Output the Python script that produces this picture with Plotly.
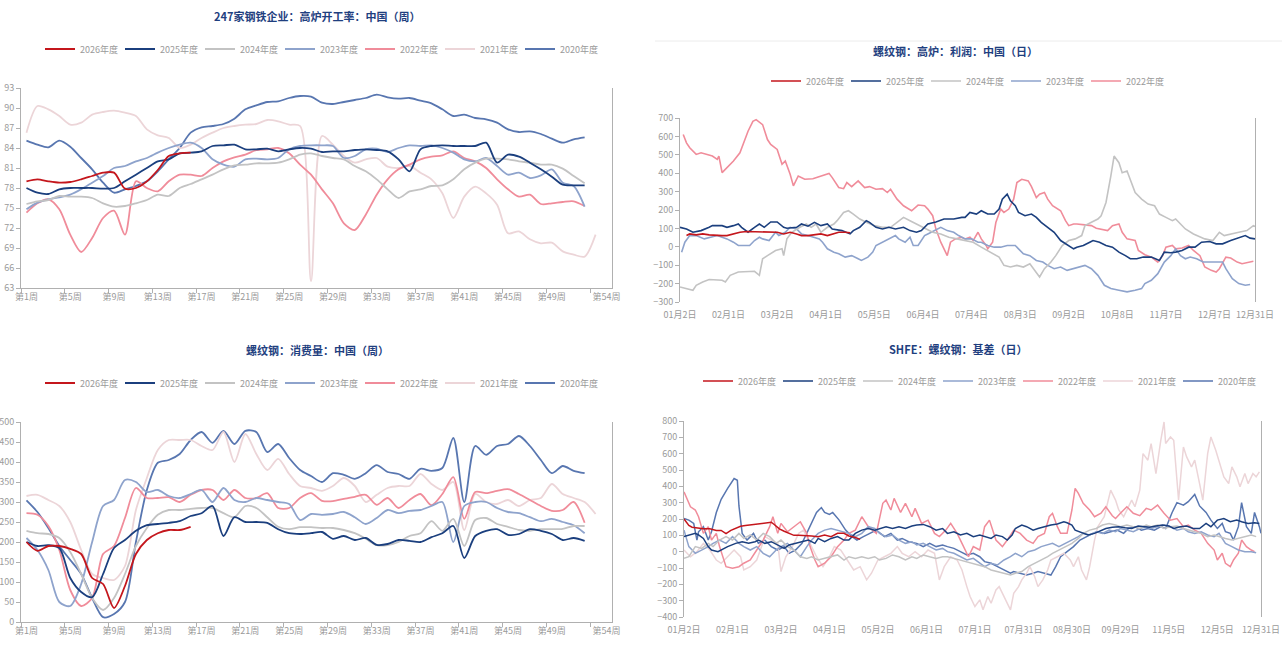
import plotly.graph_objects as go

W, H = 1282, 646

YEARS = ["2026年度", "2025年度", "2024年度", "2023年度", "2022年度", "2021年度", "2020年度"]
COLORS = ["#c4161c", "#1b3f7e", "#c3c3c3", "#8ea3cc", "#f08c9a", "#ecd5d8", "#5876b0"]

# ---------- Panel 1: 247家钢铁企业 高炉开工率 (weekly, %) ----------
BF_2026 = [79.0, 79.3, 79.0, 78.8, 78.9, 79.3, 79.8, 80.3, 80.3, 77.9, 78.0, 79.0, 80.7, 82.8, 83.2, 83.3]
BF_2025 = [78.0, 77.3, 77.1, 77.8, 78.0, 78.0, 78.0, 77.9, 78.0, 79.0, 80.0, 81.0, 82.0, 82.3, 83.2, 83.3, 83.5, 84.3,
           84.4, 84.5, 83.8, 83.8, 83.9, 83.5, 83.8, 84.0, 83.9, 83.4, 83.5, 83.5, 83.7, 83.8, 83.7, 83.5, 82.3, 80.5,
           83.8, 84.3, 84.4, 84.3, 84.3, 84.3, 84.8, 81.8, 83.0, 82.7, 81.8, 80.8, 79.7, 78.5, 78.4, 78.4]
BF_2024 = [75.6, 76.0, 76.2, 76.8, 76.7, 76.7, 76.5, 75.7, 75.2, 75.3, 75.7, 76.2, 77.0, 76.8, 78.0, 78.6, 79.3, 80.0,
           80.8, 81.4, 81.5, 81.7, 81.7, 81.8, 82.3, 83.0, 83.2, 82.8, 82.5, 82.3, 81.3, 80.5, 79.3, 77.8, 76.5, 77.5,
           77.8, 78.3, 78.4, 79.3, 80.8, 81.8, 82.4, 82.4, 82.3, 82.0, 81.8, 81.5, 81.5, 80.9, 79.8, 78.7]
BF_2023 = [74.8, 75.8, 76.3, 76.6, 77.0, 77.8, 78.8, 79.8, 81.0, 81.3, 82.0, 82.5, 83.3, 84.0, 84.5, 84.8, 84.0, 82.3,
           81.5, 81.2, 82.3, 82.4, 82.3, 82.5, 83.8, 84.3, 84.4, 84.4, 84.3, 82.5, 82.8, 83.8, 83.9, 83.4, 84.0, 84.4,
           84.3, 84.4, 84.0, 83.3, 82.3, 82.0, 82.5, 81.3, 80.0, 80.3, 79.5, 79.9, 80.8, 78.8, 78.3, 75.2]
BF_2022 = [74.3, 75.7, 76.3, 74.8, 71.0, 68.4, 70.5, 73.5, 74.6, 71.0, 79.0, 78.0, 77.5, 79.0, 80.0, 80.0, 79.8, 81.0,
           82.0, 82.6, 83.0, 83.7, 83.8, 84.0, 83.2, 81.5, 80.0, 77.8, 75.7, 72.7, 71.7, 74.0, 77.0, 79.3, 80.8, 81.5,
           82.3, 82.7, 82.9, 83.5, 82.5, 82.0, 81.0, 79.3, 77.8, 76.7, 77.0, 75.6, 75.7, 75.9, 76.0, 75.3]
BF_2021 = [86.3, 90.3, 89.8, 88.8, 87.5, 87.8, 89.0, 89.4, 89.6, 89.3, 88.8, 86.8, 85.9, 85.5, 84.0, 84.5, 85.5, 86.3,
           87.0, 87.3, 87.5, 87.6, 88.2, 88.0, 87.5, 87.3, 64.0, 85.8, 84.5, 82.8, 81.8, 82.3, 82.5, 81.2, 81.0, 81.3,
           80.3, 79.3, 77.2, 73.5, 76.7, 78.2, 77.2, 75.5, 71.2, 71.5, 70.3, 69.7, 69.8, 68.5, 68.0, 67.7, 71.0]
BF_2020 = [85.1, 84.5, 84.1, 85.1, 84.2, 82.5, 80.8, 78.8, 77.3, 77.8, 78.3, 79.0, 80.5, 82.3, 84.0, 86.3, 87.1, 87.3,
           87.6, 88.4, 89.8, 90.4, 90.9, 91.0, 91.5, 91.8, 91.7, 90.8, 90.6, 90.9, 91.2, 91.5, 92.0, 91.6, 91.4, 91.5,
           91.1, 90.7, 89.8, 88.8, 89.0, 88.5, 88.3, 87.8, 86.8, 86.4, 86.5, 86.1, 85.4, 84.8, 85.3, 85.6]

# ---------- Panel 3: 螺纹钢 消费量 (weekly, 万吨) ----------
CONS_2026 = [200, 178, 190, 190, 183, 170, 110, 95, 35, 90, 170, 205, 222, 230, 230, 238]
CONS_2025 = [200, 190, 192, 185, 110, 75, 62, 120, 185, 205, 228, 242, 245, 248, 252, 265, 272, 290, 215, 262, 250,
             250, 248, 232, 222, 220, 222, 225, 208, 215, 205, 210, 193, 195, 205, 203, 200, 212, 222, 240, 160, 215,
             228, 232, 218, 220, 232, 228, 220, 205, 210, 203]
CONS_2024 = [228, 222, 220, 210, 175, 120, 60, 30, 60, 120, 190, 235, 268, 280, 280, 283, 285, 285, 272, 262, 290,
             285, 262, 238, 232, 237, 237, 235, 235, 230, 222, 208, 192, 192, 200, 215, 222, 252, 228, 258, 190, 255,
             260, 245, 238, 230, 228, 232, 232, 233, 240, 240]
CONS_2023 = [210, 180, 130, 50, 40, 95, 200, 290, 305, 355, 350, 325, 330, 315, 310, 320, 330, 300, 335, 305, 300,
             310, 305, 300, 295, 255, 270, 268, 270, 275, 262, 245, 260, 280, 272, 278, 280, 290, 300, 200, 290, 300,
             300, 285, 275, 272, 262, 252, 258, 250, 242, 222]
CONS_2022 = [272, 268, 240, 180, 80, 40, 60, 170, 190, 260, 335, 310, 310, 312, 300, 318, 330, 330, 305, 330, 310,
             310, 322, 285, 285, 310, 322, 303, 302, 308, 313, 318, 293, 310, 285, 305, 320, 292, 320, 362, 258, 325,
             322, 328, 332, 320, 305, 290, 278, 280, 300, 248]
CONS_2021 = [315, 318, 305, 290, 250, 180, 120, 110, 105, 140, 280, 360, 430, 455, 455, 455, 440, 430, 475, 400, 470,
             420, 380, 408, 370, 340, 335, 328, 340, 360, 340, 300, 318, 335, 340, 340, 370, 345, 330, 350, 230, 320,
             300, 295, 305, 290, 305, 310, 345, 320, 310, 300, 270]
CONS_2020 = [304, 275, 235, 190, 155, 120, 60, 12, 20, 50, 200, 330, 398, 405, 420, 455, 475, 448, 478, 445, 478,
             475, 425, 445, 410, 380, 365, 350, 372, 368, 358, 372, 392, 375, 370, 358, 383, 378, 385, 460, 300, 440,
             418, 440, 445, 465, 440, 405, 372, 390, 378, 372]

WEEK_TICKS = [1, 5, 9, 13, 17, 21, 25, 29, 33, 37, 41, 45, 49, 54]
WEEK_LABELS = ["第1周", "第5周", "第9周", "第13周", "第17周", "第21周", "第25周", "第29周", "第33周", "第37周",
               "第41周", "第45周", "第49周", "第54周"]

# ---------- Panel 2: 螺纹钢 高炉 利润 (daily; x = trading-day slot, y = 元/吨) ----------
PROFIT_2026 = [(4, 61), (6, 70), (10, 65), (14, 70), (18, 65), (22, 61), (26, 61), (29, 61), (33, 70), (37, 79),
               (41, 83), (45, 83), (49, 83), (52, 83), (56, 79), (60, 79), (64, 70), (68, 79), (72, 70), (75, 61),
               (79, 61), (83, 65), (87, 70), (91, 61), (94, 70), (98, 79), (102, 79), (105, 76)]
PROFIT_2025 = [(0, 106), (4, 97), (8, 79), (13, 88), (18, 106), (20, 115), (26, 115), (29, 106), (33, 115), (36, 124),
               (38, 106), (42, 79), (46, 106), (49, 124), (52, 106), (56, 135), (60, 135), (64, 106), (66, 101),
               (72, 106), (75, 124), (79, 112), (83, 133), (87, 115), (91, 124), (94, 97), (100, 88), (105, 70),
               (107, 88), (111, 106), (115, 142), (117, 133), (121, 106), (125, 97), (129, 106), (133, 97), (138, 106),
               (142, 88), (146, 79), (149, 88), (153, 124), (158, 135), (163, 151), (169, 151), (174, 160), (176, 160),
               (179, 187), (183, 178), (186, 196), (190, 178), (194, 178), (197, 205), (199, 259), (202, 286),
               (204, 250), (207, 223), (209, 187), (213, 169), (217, 178), (220, 160), (223, 133), (227, 106),
               (231, 79), (235, 34), (240, 7), (243, -11), (245, -2), (249, 7), (253, 25), (255, 34), (259, 25),
               (263, 7), (267, -2), (271, -29), (275, -48), (278, -65), (282, -65), (286, -56), (291, -56), (296, -74),
               (299, -29), (303, -32), (306, -29), (310, -20), (314, -2), (318, -2), (322, 25), (327, 29), (331, 16),
               (335, 16), (340, 34), (345, 47), (349, 61), (352, 47), (355, 43)]
PROFIT_2024 = [(0, -218), (4, -227), (8, -236), (10, -209), (14, -191), (18, -178), (22, -182), (26, -182), (28, -191),
               (31, -155), (36, -137), (41, -133), (46, -133), (49, -155), (51, -65), (54, -48), (56, -38), (59, -20),
               (63, -11), (64, -48), (66, 43), (69, 79), (74, 106), (78, 124), (81, 106), (84, 124), (87, 79),
               (91, 106), (95, 124), (97, 142), (101, 187), (104, 196), (107, 178), (111, 151), (115, 133), (120, 115),
               (125, 106), (130, 106), (134, 133), (138, 160), (142, 142), (146, 124), (151, 106), (156, 79), (161, 70),
               (166, 52), (171, 43), (176, 34), (181, 25), (186, -2), (192, -29), (197, -56), (200, -101), (204, -110),
               (208, -101), (212, -110), (216, -92), (220, -137), (222, -164), (225, -119), (229, -83), (232, -48),
               (236, 7), (240, 34), (244, 43), (248, 61), (250, 115), (254, 133), (258, 151), (260, 169), (263, 241),
               (266, 385), (268, 493), (271, 457), (273, 403), (276, 412), (278, 367), (281, 295), (285, 259),
               (289, 232), (293, 223), (296, 178), (300, 160), (304, 142), (306, 151), (312, 97), (317, 70), (321, 52),
               (324, 43), (329, 34), (333, 79), (336, 61), (340, 70), (345, 79), (350, 88), (354, 115), (356, 106)]
PROFIT_2023 = [(1, -29), (3, 25), (6, 61), (10, 61), (15, 43), (19, 52), (23, 61), (26, 52), (29, 43), (33, 25),
               (36, 7), (40, 7), (43, 7), (46, 34), (49, 52), (51, 43), (55, 34), (59, 79), (61, 61), (65, 79),
               (68, 106), (72, 97), (75, 70), (79, 61), (82, 52), (86, 43), (88, 25), (91, -11), (95, -29), (98, -38),
               (102, -56), (106, -48), (110, -65), (112, -74), (116, -56), (119, -29), (121, 7), (125, 25), (130, 43),
               (133, 61), (135, 43), (139, 25), (142, 52), (144, 7), (147, 7), (151, 61), (153, 70), (157, 88),
               (161, 106), (165, 88), (169, 79), (172, 61), (176, 43), (180, 43), (184, 25), (186, 25), (190, 7),
               (194, -2), (198, -2), (202, 7), (207, 7), (209, -11), (212, -38), (216, -48), (220, -74), (224, -83),
               (227, -101), (231, -119), (235, -110), (239, -128), (243, -119), (247, -110), (250, -101), (254, -119),
               (258, -155), (262, -209), (266, -227), (271, -236), (276, -245), (281, -236), (285, -227), (287, -200),
               (291, -182), (295, -146), (299, -83), (303, -48), (306, -11), (309, -48), (312, -65), (315, -56),
               (319, -65), (323, -83), (327, -83), (331, -83), (335, -83), (337, -119), (341, -173), (345, -200),
               (349, -209), (352, -205)]
PROFIT_2022 = [(2, 610), (4, 565), (6, 538), (10, 502), (13, 511), (17, 502), (20, 493), (23, 475), (24, 493),
               (26, 403), (29, 430), (33, 466), (37, 511), (40, 583), (42, 628), (45, 682), (47, 691), (51, 664),
               (54, 583), (56, 556), (60, 529), (63, 448), (65, 466), (68, 394), (70, 331), (73, 385), (77, 367),
               (82, 370), (87, 385), (92, 399), (94, 376), (98, 322), (101, 316), (103, 349), (106, 327), (110, 358),
               (114, 322), (117, 327), (121, 313), (125, 316), (128, 295), (130, 313), (134, 259), (138, 223),
               (143, 196), (147, 227), (151, 223), (153, 205), (156, 169), (158, 96), (161, 25), (165, -48), (167, 25),
               (170, 43), (174, 52), (176, 43), (179, 52), (181, 34), (184, 79), (186, 43), (189, 7), (190, -11),
               (193, 25), (195, 132), (198, 205), (200, 187), (203, 205), (206, 259), (208, 349), (211, 367),
               (215, 358), (217, 327), (220, 268), (222, 286), (225, 295), (227, 259), (230, 223), (232, 214),
               (235, 196), (238, 142), (240, 115), (243, 124), (245, 124), (250, 119), (254, 115), (257, 101),
               (261, 94), (264, 88), (267, 115), (271, 124), (273, 79), (276, 43), (281, 34), (283, -20), (287, -43),
               (291, -56), (295, -83), (298, -48), (300, -2), (304, 7), (306, -11), (310, -7), (314, 7), (317, -20),
               (321, -48), (324, -110), (328, -128), (331, -137), (333, -119), (337, -56), (340, -61), (344, -83),
               (347, -92), (351, -83), (354, -79)]

PROFIT_TICKS = [0, 30, 60, 90, 120, 150, 180, 210, 240, 270, 300, 330, 355]
PROFIT_LABELS = ["01月2日", "02月1日", "03月2日", "04月1日", "05月5日", "06月4日", "07月4日", "08月3日", "09月2日",
                 "10月8日", "11月7日", "12月7日", "12月31日"]

# ---------- Panel 4: SHFE 螺纹钢 基差 (daily; x = trading-day slot, y = 元/吨) ----------
BASIS_2026 = [(0, 200), (3, 160), (5, 150), (8, 145), (12, 140), (16, 140), (20, 130), (23, 130), (26, 110), (29, 130),
              (32, 145), (35, 155), (38, 160), (43, 165), (47, 170), (51, 175), (54, 180), (56, 165), (59, 140),
              (62, 125), (65, 110), (68, 100), (71, 100), (75, 100), (79, 96), (83, 92), (87, 102), (91, 92), (95, 112),
              (99, 112), (102, 96), (106, 87), (109, 75)]
BASIS_2025 = [(0, 92), (3, 102), (7, 112), (9, 102), (12, 81), (15, 31), (17, 10), (21, 0), (23, 10), (27, 31), (32, 51),
              (36, 61), (40, 51), (44, 61), (46, 71), (50, 51), (54, 61), (58, 41), (62, 20), (65, 41), (69, 51),
              (73, 61), (77, 71), (81, 51), (83, 81), (87, 61), (91, 81), (95, 92), (99, 71), (102, 71), (106, 112),
              (110, 132), (114, 142), (118, 132), (121, 142), (125, 153), (129, 142), (133, 153), (137, 142),
              (141, 157), (144, 163), (148, 167), (152, 153), (156, 132), (160, 142), (163, 112), (167, 122),
              (171, 102), (175, 112), (179, 92), (183, 102), (186, 92), (190, 81), (193, 102), (197, 92), (200, 71),
              (203, 102), (205, 142), (209, 163), (212, 153), (216, 132), (219, 142), (223, 153), (227, 163),
              (231, 169), (235, 183), (237, 177), (240, 163), (242, 132), (246, 116), (250, 102), (254, 112),
              (258, 132), (261, 142), (265, 149), (269, 153), (273, 147), (277, 142), (281, 157), (284, 153),
              (288, 149), (292, 157), (296, 163), (300, 157), (303, 142), (307, 153), (311, 157), (315, 142),
              (319, 142), (323, 173), (326, 153), (330, 193), (334, 203), (338, 183), (342, 193), (345, 183),
              (349, 173), (353, 177), (356, 173)]
BASIS_2024 = [(0, -41), (3, -31), (7, 31), (11, 20), (15, 51), (18, 31), (22, 71), (26, 92), (30, 71), (34, 112),
              (37, 81), (41, 102), (45, 71), (49, 112), (53, 92), (57, 51), (60, 71), (64, 31), (68, 10), (72, -31),
              (76, -41), (79, -31), (83, -51), (87, -41), (91, -31), (95, -20), (99, -51), (102, -31), (106, -41),
              (110, -31), (114, -41), (118, -31), (121, -51), (125, -41), (129, -20), (133, -31), (137, -51),
              (141, -31), (144, -41), (148, -20), (152, -31), (156, -41), (160, -31), (163, -31), (167, -41),
              (171, -51), (175, -61), (179, -71), (183, -81), (186, -92), (190, -112), (194, -122), (198, -132),
              (202, -143), (205, -132), (209, -122), (213, -92), (217, -71), (221, -51), (225, -31), (228, -10),
              (232, 10), (236, 31), (240, 51), (244, 81), (247, 112), (251, 132), (255, 142), (259, 163), (263, 173),
              (267, 163), (270, 153), (274, 163), (278, 153), (282, 142), (286, 163), (289, 153), (293, 163),
              (297, 142), (301, 153), (305, 157), (309, 142), (312, 132), (316, 122), (320, 112), (324, 92),
              (328, 102), (331, 92), (335, 81), (339, 71), (343, 81), (347, 92), (351, 102), (354, 92)]
BASIS_2023 = [(0, 132), (3, 31), (7, -10), (11, 10), (15, 31), (18, 51), (22, 71), (26, 51), (30, 92), (34, 51),
              (37, 31), (41, 10), (45, 31), (49, -10), (53, -31), (57, 10), (60, 31), (64, 51), (68, 10), (72, -31),
              (76, 31), (79, 71), (83, 112), (87, 132), (91, 142), (95, 132), (99, 122), (102, 112), (106, 92),
              (110, 112), (114, 153), (118, 142), (121, 112), (125, 92), (129, 102), (133, 71), (137, 51), (141, 61),
              (144, 41), (148, 51), (152, 31), (156, 10), (160, 20), (163, 0), (167, -10), (171, -31), (175, -51),
              (179, -41), (183, -71), (186, -92), (190, -71), (194, -81), (198, -51), (202, -31), (205, -10),
              (209, -31), (213, 0), (217, 10), (221, 31), (225, 41), (228, 51), (232, 31), (236, 51), (240, 71),
              (244, 92), (247, 112), (251, 102), (255, 122), (259, 112), (263, 132), (267, 122), (270, 142),
              (274, 132), (278, 122), (282, 142), (286, 153), (289, 142), (293, 153), (297, 163), (301, 153),
              (305, 132), (309, 142), (312, 122), (316, 112), (320, 122), (324, 102), (328, 92), (331, 112),
              (335, 51), (339, 31), (343, 10), (347, 0), (351, 0), (354, -6)]
BASIS_2022 = [(0, 366), (2, 316), (4, 275), (7, 255), (9, 214), (12, 112), (15, 153), (17, 71), (20, 112), (22, 31),
              (26, -92), (30, -102), (34, -92), (37, -71), (41, -51), (45, 10), (49, 71), (53, 153), (55, 214),
              (58, 112), (60, 173), (64, 122), (68, 153), (72, 183), (76, 112), (78, 31), (81, -51), (83, -92),
              (87, -71), (91, -31), (95, 31), (99, 71), (102, 112), (106, 132), (110, 214), (114, 153), (119, 112),
              (123, 296), (125, 316), (128, 255), (130, 326), (134, 240), (137, 296), (141, 214), (143, 265),
              (147, 173), (151, 193), (155, 112), (158, 92), (162, 132), (165, 173), (169, 112), (172, 51), (176, -31),
              (179, 31), (183, 10), (186, 153), (189, 193), (193, 71), (197, 31), (200, 71), (204, 132), (208, 112),
              (212, 71), (216, 51), (219, 92), (223, 112), (226, 214), (228, 235), (231, 153), (233, 112), (237, 112),
              (240, 255), (242, 387), (244, 357), (247, 296), (251, 255), (254, 214), (258, 235), (261, 275),
              (265, 220), (267, 203), (270, 235), (274, 275), (278, 235), (282, 220), (286, 265), (289, 255),
              (293, 285), (297, 235), (301, 193), (305, 203), (309, 153), (312, 163), (316, 132), (320, 112),
              (324, 51), (328, 10), (330, -51), (333, -10), (335, -71), (338, -92), (340, -51), (343, -10), (345, 71),
              (348, 31), (351, 10), (353, 0)]
BASIS_2021 = [(0, 10), (4, -31), (8, 0), (12, 51), (16, 10), (20, -51), (23, -71), (27, -31), (31, 10), (35, -31),
              (37, -112), (41, -92), (45, -51), (48, 31), (50, 92), (54, 71), (58, 51), (60, -122), (63, -31), (67, 31),
              (71, 112), (74, 132), (78, 51), (82, -31), (86, -92), (90, -31), (93, 31), (97, 10), (101, -51),
              (105, -112), (109, -92), (113, -173), (116, -132), (120, -51), (124, -31), (128, -10), (132, 31),
              (135, -10), (139, -31), (143, 0), (147, -31), (151, 10), (155, -10), (158, -173), (161, -92), (165, -31),
              (169, -51), (172, -112), (175, -214), (177, -275), (180, -336), (183, -295), (185, -356), (188, -275),
              (190, -316), (193, -234), (195, -214), (198, -275), (200, -316), (202, -356), (204, -255), (207, -214),
              (209, -173), (212, -132), (214, -92), (217, -153), (219, -214), (222, -173), (225, -112), (227, -51),
              (231, -31), (235, -10), (239, -51), (241, -92), (244, -31), (246, -112), (249, -173), (251, -92),
              (254, 71), (256, 153), (260, 214), (264, 377), (267, 316), (269, 255), (272, 214), (274, 255), (277, 316),
              (279, 275), (282, 377), (284, 600), (287, 560), (289, 662), (292, 478), (295, 682), (297, 794),
              (298, 662), (301, 702), (303, 682), (306, 316), (309, 641), (311, 580), (314, 519), (316, 560),
              (319, 417), (321, 316), (324, 600), (326, 702), (329, 621), (331, 560), (334, 458), (337, 417),
              (339, 519), (342, 458), (344, 397), (347, 478), (349, 417), (352, 478), (354, 458), (356, 488)]
BASIS_2020 = [(0, 203), (3, 193), (6, 173), (8, 71), (9, 122), (12, 153), (15, 71), (17, 122), (20, 240), (23, 321),
              (27, 387), (31, 448), (33, 437), (34, 280), (36, 112), (39, 71), (43, 112), (46, 51), (50, 71), (54, 31),
              (58, 10), (62, 31), (65, -10), (69, 10), (73, 51), (76, 112), (78, 153), (82, 240), (85, 270), (87, 240),
              (90, 228), (92, 240), (96, 193), (100, 132), (104, 92), (107, 71), (111, 92), (115, 112), (119, 132),
              (124, 92), (128, 112), (132, 71), (135, 81), (139, 61), (144, 51), (148, 31), (152, 51), (156, 31),
              (160, 41), (163, 31), (167, 20), (171, 0), (175, -20), (179, -10), (183, -31), (186, -61), (190, -71),
              (194, -92), (198, -112), (202, -132), (204, -122), (208, -132), (212, -143), (216, -132), (219, -122),
              (223, -132), (227, -143), (230, -92), (233, -31), (237, 0), (241, 31), (245, 71), (249, 92), (253, 112),
              (256, 122), (260, 112), (264, 122), (268, 132), (272, 112), (275, 142), (279, 153), (283, 132),
              (287, 142), (291, 132), (295, 153), (298, 142), (302, 240), (305, 300), (309, 285), (312, 306),
              (316, 350), (319, 280), (323, 240), (326, 193), (330, 142), (333, 173), (335, 122), (338, 112), (340, 71),
              (343, 153), (345, 300), (348, 153), (351, 112), (353, 240), (356, 153), (357, 112)]

BASIS_TICKS = [0, 30, 60, 90, 120, 150, 180, 210, 240, 270, 300, 330, 357]
BASIS_LABELS = ["01月2日", "02月1日", "03月2日", "04月1日", "05月2日", "06月1日", "07月1日", "07月31日", "08月30日",
                "09月29日", "11月5日", "12月5日", "12月31日"]

TITLES = ["247家钢铁企业：高炉开工率：中国（周）", "螺纹钢：高炉：利润：中国（日）",
          "螺纹钢：消费量：中国（周）", "SHFE：螺纹钢：基差（日）"]

# ---------------------------------------------------------------
FONT = "Noto Sans CJK SC, sans-serif"
AXC = "#b0b0b0"
TXC = "#9a9a9a"


def fx(p):
    return p / W


def fy(p):
    return 1 - p / H


fig = go.Figure()

bf = [BF_2026, BF_2025, BF_2024, BF_2023, BF_2022, BF_2021, BF_2020]
cons = [CONS_2026, CONS_2025, CONS_2024, CONS_2023, CONS_2022, CONS_2021, CONS_2020]
profit = [PROFIT_2026, PROFIT_2025, PROFIT_2024, PROFIT_2023, PROFIT_2022]
basis = [BASIS_2026, BASIS_2025, BASIS_2024, BASIS_2023, BASIS_2022, BASIS_2021, BASIS_2020]

# add oldest first so newest draws on top; legends reversed
for i in reversed(range(7)):
    ys = bf[i]
    fig.add_trace(go.Scatter(x=list(range(1, len(ys) + 1)), y=ys, mode="lines", name=YEARS[i],
                             line=dict(color=COLORS[i], width=1.8, shape="spline", smoothing=0.8),
                             xaxis="x", yaxis="y", legend="legend", hoverinfo="skip"))
for i in reversed(range(5)):
    pts = profit[i]
    fig.add_trace(go.Scatter(x=[p[0] for p in pts], y=[p[1] for p in pts], mode="lines", name=YEARS[i],
                             line=dict(color=COLORS[i], width=1.6),
                             xaxis="x2", yaxis="y2", legend="legend2", hoverinfo="skip"))
for i in reversed(range(7)):
    ys = cons[i]
    fig.add_trace(go.Scatter(x=list(range(1, len(ys) + 1)), y=ys, mode="lines", name=YEARS[i],
                             line=dict(color=COLORS[i], width=1.8, shape="spline", smoothing=0.8),
                             xaxis="x3", yaxis="y3", legend="legend3", hoverinfo="skip"))
for i in reversed(range(7)):
    pts = basis[i]
    fig.add_trace(go.Scatter(x=[p[0] for p in pts], y=[p[1] for p in pts], mode="lines", name=YEARS[i],
                             line=dict(color=COLORS[i], width=1.5),
                             xaxis="x4", yaxis="y4", legend="legend4", hoverinfo="skip"))

tickfont = dict(family=FONT, size=9, color=TXC)

# panel geometry (pixels)
P1 = dict(l=21, r=612, t=88, b=288)
P2 = dict(l=680, r=1255, t=118, b=302)
P3 = dict(l=21, r=612, t=422, b=622)
P4 = dict(l=684, r=1261, t=421, b=617)


def week_xaxis(p, anchor):
    return dict(domain=[fx(p["l"]), fx(p["r"])], anchor=anchor, range=[0.5, 54.5], automargin=False,
                tickmode="array", tickvals=WEEK_TICKS, ticktext=WEEK_LABELS, ticks="",
                showline=True, linecolor=AXC, linewidth=1, showgrid=False, zeroline=False,
                tickfont=tickfont, fixedrange=True,
                minor=dict(tickmode="array", tickvals=[t - 0.5 for t in WEEK_TICKS[:-1]] + [52.5],
                           ticks="outside", ticklen=4, tickcolor=AXC, showgrid=False))


def val_yaxis(p, anchor, rng, dtick):
    return dict(domain=[fy(p["b"]), fy(p["t"])], anchor=anchor, range=rng, dtick=dtick, tick0=rng[0],
                automargin=False, showline=True, mirror=True, linecolor=AXC, linewidth=1, ticks="outside",
                ticklen=4, tickcolor=AXC, showgrid=False, zeroline=False, tickfont=tickfont, fixedrange=True)


def date_xaxis(p, anchor, tv, tt):
    return dict(domain=[fx(p["l"]), fx(p["r"])], anchor=anchor, range=[tv[0], tv[-1]], automargin=False,
                tickmode="array", tickvals=tv, ticktext=tt, ticks="", showline=False, ticklabelstandoff=6,
                showgrid=False, zeroline=False, tickfont=tickfont, fixedrange=True)


def zero_axis(p, base, tv, rng):
    ybot, ytop = fy(p["b"]), fy(p["t"])
    pos = ybot + (0 - rng[0]) / (rng[1] - rng[0]) * (ytop - ybot)
    return dict(overlaying=base, anchor="free", position=pos, range=[tv[0], tv[-1]], automargin=False,
                tickmode="array", tickvals=tv, showticklabels=False, ticks="outside", ticklen=4,
                tickcolor=AXC, showline=True, linecolor=AXC, linewidth=1, showgrid=False,
                zeroline=False, fixedrange=True)


def legend_at(xc, yc, ew):
    return dict(orientation="h", x=fx(xc), xanchor="center", y=fy(yc), yanchor="middle",
                font=dict(family=FONT, size=9, color=TXC), itemwidth=30, entrywidth=ew,
                entrywidthmode="pixels", traceorder="reversed", bgcolor="rgba(0,0,0,0)",
                itemclick=False, itemdoubleclick=False, tracegroupgap=0)


title_ann = []
for txt, (xc, yc) in zip(TITLES, [(317, 16), (955, 51), (317, 350), (958, 349)]):
    title_ann.append(dict(text=f"<b>{txt}</b>", x=fx(xc), y=fy(yc), xref="paper", yref="paper",
                          xanchor="center", yanchor="middle", showarrow=False,
                          font=dict(family=FONT, size=11, color="#1f3f7f")))

fig.update_layout(
    width=W, height=H, margin=dict(l=0, r=0, t=0, b=0, autoexpand=False),
    paper_bgcolor="white", plot_bgcolor="white", showlegend=True,
    xaxis=week_xaxis(P1, "y"),
    yaxis=val_yaxis(P1, "x", [63, 93], 3),
    xaxis2=date_xaxis(P2, "y2", PROFIT_TICKS, PROFIT_LABELS),
    yaxis2=val_yaxis(P2, "x2", [-300, 700], 100),
    xaxis3=week_xaxis(P3, "y3"),
    yaxis3=val_yaxis(P3, "x3", [0, 500], 50),
    xaxis4=date_xaxis(P4, "y4", BASIS_TICKS, BASIS_LABELS),
    yaxis4=val_yaxis(P4, "x4", [-400, 800], 100),
    xaxis5=zero_axis(P2, "x2", PROFIT_TICKS, [-300, 700]),
    xaxis6=zero_axis(P4, "x4", BASIS_TICKS, [-400, 800]),
    legend=legend_at(320, 49, 35),
    legend2=legend_at(966, 81, 35),
    legend3=legend_at(320, 383, 35),
    legend4=legend_at(978, 381, 35),
    annotations=title_ann,
    shapes=[dict(type="line", xref="paper", yref="paper", x0=fx(655), x1=1, y0=fy(41), y1=fy(41),
                 line=dict(color="#ececec", width=1))],
)

fig.write_html("out.html", config={"displayModeBar": False},
               post_script="document.body.style.margin='0';document.body.style.overflow='hidden';"
                           "window.dispatchEvent(new Event('resize'));")
